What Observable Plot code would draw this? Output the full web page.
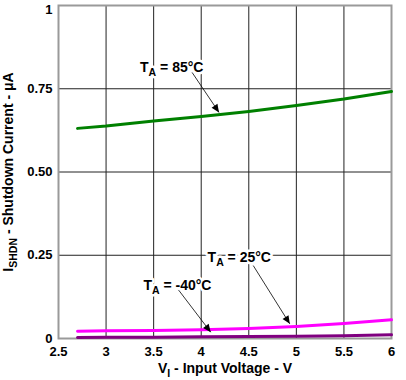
<!DOCTYPE html>
<html><head><meta charset="utf-8">
<script src="https://cdn.jsdelivr.net/npm/d3@7"></script>
<script src="https://cdn.jsdelivr.net/npm/@observablehq/plot@0.6"></script>
<style>
body{margin:0;background:#fff}
svg{font-family:"Liberation Sans",Arial,sans-serif}
</style>
</head><body><div id="chart"></div>
<script>
// ---- data ----
const voltage = [2.7, 3, 3.5, 4, 4.5, 5, 5.5, 6];
const current85 = [0.631, 0.638, 0.653, 0.667, 0.682, 0.700, 0.719, 0.742];
const current25 = [0.022, 0.023, 0.024, 0.026, 0.030, 0.036, 0.045, 0.056];
const currentM40 = [0.003, 0.004, 0.004, 0.005, 0.006, 0.007, 0.008, 0.011];
const seriesNames = ["T_A = 85°C", "T_A = 25°C", "T_A = -40°C"];
const seriesColors = ["#008000", "#ff00ff", "#800080"];
const xTicks = [2.5, 3, 3.5, 4, 4.5, 5, 5.5, 6];
const xTickLabels = ["2.5", "3", "3.5", "4", "4.5", "5", "5.5", "6"];
const yTicks = [0, 0.25, 0.5, 0.75, 1];
const yTickLabels = ["0", "0.25", "0.50", "0.75", "1"];
const gridX = [3, 3.5, 4, 4.5, 5, 5.5];
const gridY = [0.25, 0.5, 0.75];
// annotation label anchors and arrows (data units)
const labelX = [3.69, 4.40, 3.75];
const labelY = [0.815, 0.244, 0.159];
const arrowX1 = [3.904, 4.547, 3.761];
const arrowY1 = [0.799, 0.219, 0.146];
const arrowX2 = [4.187, 4.931, 4.100];
const arrowY2 = [0.679, 0.044, 0.019];

const seriesValues = [current85, current25, currentM40];
const table = seriesNames.flatMap((s, k) =>
  voltage.map((v, i) => ({series: s, v, c: seriesValues[k][i]})));
const notes = seriesNames.map((s, k) => ({
  text: s, lx: labelX[k], ly: labelY[k],
  x1: arrowX1[k], y1: arrowY1[k], x2: arrowX2[k], y2: arrowY2[k]
}));

const chart = Plot.plot({
  width: 406, height: 380,
  marginLeft: 58, marginRight: 15, marginTop: 5, marginBottom: 42,
  style: {fontSize: "13px", fontWeight: "bold", fontFamily: '"Liberation Sans", Arial, sans-serif', color: "black", background: "white"},
  x: {domain: [2.5, 6], ticks: xTicks, tickFormat: d => xTickLabels[xTicks.indexOf(d)],
      tickSize: 0, tickPadding: 8, label: "V_I - Input Voltage - V", labelAnchor: "center", labelOffset: 34, labelArrow: "none"},
  y: {domain: [0, 1], ticks: yTicks, tickFormat: d => yTickLabels[yTicks.indexOf(d)],
      tickSize: 0, tickPadding: 6, label: "I_SHDN - Shutdown Current - μA", labelAnchor: "center", labelOffset: 55, labelArrow: "none"},
  color: {domain: seriesNames, range: seriesColors},
  marks: [
    Plot.ruleX(gridX, {stroke: "#222", strokeWidth: 1}),
    Plot.ruleY(gridY, {stroke: "#222", strokeWidth: 1}),
    Plot.frame({stroke: "#9a9a9a", strokeWidth: 2}),
    Plot.line(table, {x: "v", y: "c", z: "series", stroke: "series", strokeWidth: 3}),
    Plot.link(notes, {x1: "x1", y1: "y1", x2: "x2", y2: "y2", stroke: "black", strokeWidth: 0.8, markerEnd: "arrow"}),
    Plot.text(notes, {x: "lx", y: "ly", text: "text", fontSize: 14, fontWeight: "bold", fill: "black", stroke: "white", strokeWidth: 5})
  ]
});
document.getElementById("chart").append(chart);

const svg = d3.select(chart);
// subscripts
svg.selectAll("text").each(function() {
  const t = this.textContent;
  const m = /^(.*?)_(\S+)(.*)$/.exec(t);
  if (!m) return;
  const el = d3.select(this);
  el.text(null);
  el.append("tspan").text(m[1]);
  el.append("tspan").attr("font-size", "75%").attr("dy", 4).text(m[2]);
  el.append("tspan").attr("dy", -4).text(m[3]);
  if (!/^T/.test(t)) el.attr("font-size", 14);
});
// keep the top y tick label ("1") inside the picture, as in the reference
svg.selectAll("text").filter(function() { return this.textContent === yTickLabels[yTickLabels.length - 1] && this.getAttribute("text-anchor") !== "middle"; })
  .attr("dy", "0.3em");
// filled arrowheads
svg.selectAll("marker")
  .attr("markerUnits", "userSpaceOnUse")
  .attr("viewBox", "-9 -5 10 10")
  .attr("markerWidth", 10).attr("markerHeight", 10)
  .attr("fill", "black").attr("stroke", "none")
  .each(function() {
    d3.select(this).selectAll("path").attr("d", "M-8,-3.5L0,0L-8,3.5Z").attr("fill", "black").attr("stroke", "none");
  });
</script>
</body></html>
